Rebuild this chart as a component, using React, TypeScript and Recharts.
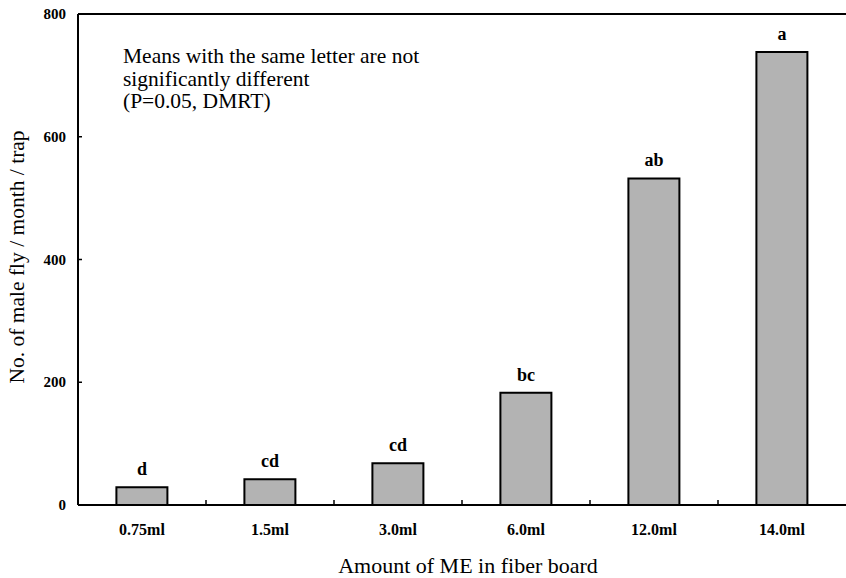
import React from 'react';
import { BarChart, Bar, XAxis, YAxis, ReferenceLine, LabelList } from 'recharts';

const categories = ['0.75ml', '1.5ml', '3.0ml', '6.0ml', '12.0ml', '14.0ml'];
const values = [29, 42, 68, 183, 532, 738];
const letters = ['d', 'cd', 'cd', 'bc', 'ab', 'a'];
const yTicks = [0, 200, 400, 600, 800];
const noteLines = ['Means with the same letter are not', 'significantly different', '(P=0.05, DMRT)'];

const data = categories.map((c, i) => ({ name: c, value: values[i], letter: letters[i] }));

const FONT = '"Liberation Serif", "Times New Roman", serif';

const YTick = (props: any) => {
  const { x, y, payload } = props;
  return (
    <g>
      <text x={x - 12} y={y} dy={5} textAnchor="end" style={{ fontFamily: FONT, fontWeight: 'bold', fontSize: 15 }} fill="#000">
        {payload.value}
      </text>
      {payload.value !== 0 && payload.value !== 800 ? (
        <line x1={x} x2={x + 4} y1={y} y2={y} stroke="#000" strokeWidth={1.5} />
      ) : null}
    </g>
  );
};

const XTick = (props: any) => {
  const { x, y, payload, index } = props;
  const half = 64;
  return (
    <g>
      <text x={x} y={y + 25} dy={5} textAnchor="middle" style={{ fontFamily: FONT, fontWeight: 'bold', fontSize: 16 }} fill="#000">
        {payload.value}
      </text>
      {index < categories.length - 1 ? (
        <line x1={x + half} x2={x + half} y1={y} y2={y - 5} stroke="#000" strokeWidth={1.5} />
      ) : null}
    </g>
  );
};

export default function App() {
  return (
    <div style={{ position: 'absolute', left: 0, top: 0, width: 846, height: 578, background: '#fff' }}>
      <svg width={846} height={578} style={{ position: 'absolute', left: 0, top: 0, pointerEvents: 'none' }}>
        <text x={17} y={257} transform="rotate(-90 17 257)" textAnchor="middle" dominantBaseline="central" style={{ fontFamily: FONT, fontSize: 21.5 }} fill="#000">
          No. of male fly / month / trap
        </text>
        <text x={468} y={565} textAnchor="middle" dominantBaseline="central" style={{ fontFamily: FONT, fontSize: 22 }} fill="#000">
          Amount of ME in fiber board
        </text>
        {noteLines.map((t, i) => (
          <text key={t} x={123} y={56 + i * 22.5} dominantBaseline="central" style={{ fontFamily: FONT, fontSize: 21.5 }} fill="#000">
            {t}
          </text>
        ))}
      </svg>
      <div style={{ position: 'absolute', left: 0, top: 0 }}>
        <BarChart
          width={846}
          height={578}
          data={data}
          margin={{ top: 14, right: 0, bottom: 43, left: 0 }}
          barCategoryGap="30%"
        >
          <XAxis
            dataKey="name"
            height={30}
            tick={<XTick />}
            tickLine={false}
            tickSize={0}
            tickMargin={0}
            axisLine={{ stroke: '#000', strokeWidth: 2 }}
            interval={0}
          />
          <YAxis
            domain={[0, 800]}
            ticks={yTicks}
            width={78}
            tick={<YTick />}
            tickLine={false}
            tickSize={0}
            tickMargin={0}
            axisLine={{ stroke: '#000', strokeWidth: 2 }}
          />
          <ReferenceLine y={800} stroke="#000" strokeWidth={2} ifOverflow="extendDomain" />
          <Bar dataKey="value" fill="#b3b3b3" stroke="#000" strokeWidth={2} isAnimationActive={false}>
            <LabelList
              dataKey="letter"
              position="top"
              offset={12}
              style={{ fontFamily: FONT, fontWeight: 'bold', fontSize: 18, fill: '#000' }}
            />
          </Bar>
        </BarChart>
      </div>
    </div>
  );
}
